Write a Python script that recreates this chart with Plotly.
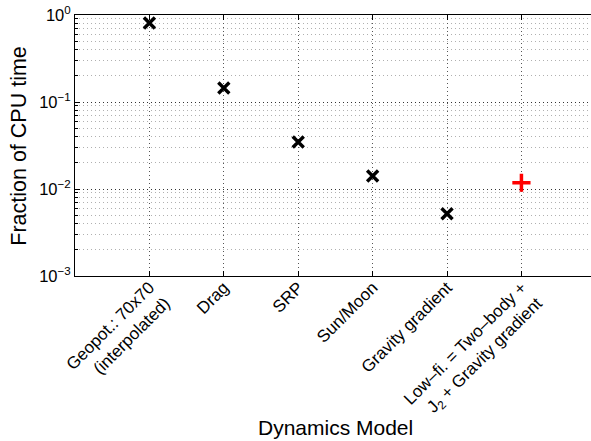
import plotly.graph_objects as go

# Dynamics models evaluated and the share of CPU time each one takes
models = [
    "Geopot.: 70x70<br>(interpolated)",
    "Drag",
    "SRP",
    "Sun/Moon",
    "Gravity gradient",
    "Low–fi. = Two–body +<br>J<sub>2</sub> + Gravity gradient",
]
cpu_fraction = [0.81, 0.145, 0.0347, 0.0141, 0.0052]
lowfi_fraction = [0.0118]

y_tickvals = [1e-3, 1e-2, 1e-1, 1]
y_ticktext = ["10<sup>−3</sup>", "10<sup>−2</sup>", "10<sup>−1</sup>", "10<sup>0</sup>"]
y_minor = [k * 10.0 ** e for e in (-3, -2, -1) for k in range(2, 10)]

font_family = "Liberation Sans, Arial, Helvetica, sans-serif"

fig = go.Figure()

# individual force models (black crosses)
fig.add_trace(go.Scatter(
    x=list(range(1, len(cpu_fraction) + 1)),
    y=cpu_fraction,
    mode="markers",
    marker=dict(symbol="x-thin", size=11, color="black",
                line=dict(width=3.4, color="black")),
    showlegend=False,
))

# combined low-fidelity model (red plus)
fig.add_trace(go.Scatter(
    x=[len(models)],
    y=lowfi_fraction,
    mode="markers",
    marker=dict(symbol="cross-thin", size=13, color="#ff0000",
                line=dict(width=3.5, color="#ff0000")),
    showlegend=False,
))

fig.update_layout(
    width=591,
    height=441,
    margin=dict(l=75, r=0, t=15, b=165),
    paper_bgcolor="white",
    plot_bgcolor="white",
    font=dict(family=font_family, size=16, color="black"),
    showlegend=False,
    xaxis=dict(
        range=[0, 6.935],
        tickmode="array",
        tickvals=list(range(1, len(models) + 1)),
        ticktext=models,
        tickangle=-45,
        tickfont=dict(size=17),
        ticklabelstandoff=-6,
        ticks="inside",
        ticklen=5,
        tickcolor="black",
        showline=True,
        linecolor="black",
        linewidth=1,
        mirror="ticks",
        showgrid=True,
        gridcolor="#555555",
        gridwidth=1,
        griddash="1px,3px",
        zeroline=False,
    ),
    yaxis=dict(
        type="log",
        range=[-3, 0],
        tickmode="array",
        tickvals=y_tickvals,
        ticktext=y_ticktext,
        tickfont=dict(size=16.5),
        ticks="inside",
        ticklen=5,
        tickcolor="black",
        showline=True,
        linecolor="black",
        linewidth=1,
        showgrid=True,
        gridcolor="#333333",
        gridwidth=1,
        griddash="1px,3px",
        zeroline=False,
        minor=dict(
            tickvals=y_minor,
            ticks="inside",
            ticklen=3,
            tickcolor="black",
            showgrid=True,
            gridcolor="#b0b0b0",
            gridwidth=1,
            griddash="1px,3px",
        ),
    ),
    annotations=[
        dict(text="Fraction of CPU time", xref="paper", yref="paper",
             x=-0.11, y=0.5, xanchor="center", yanchor="middle",
             textangle=-90, showarrow=False,
             font=dict(size=21.5, family=font_family)),
        dict(text="Dynamics Model", xref="paper", yref="paper",
             x=0.504, y=-0.58, xanchor="center", yanchor="middle",
             showarrow=False,
             font=dict(size=21, family=font_family)),
    ],
)

fig.write_html("out.html")
